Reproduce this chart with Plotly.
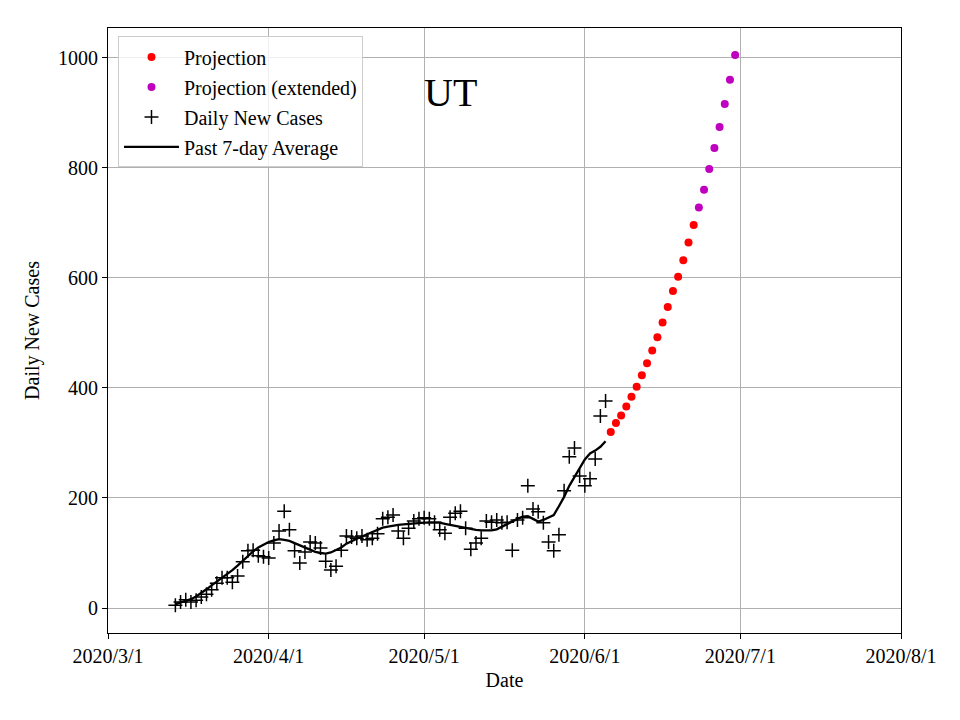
import pandas as pd
import plotly.graph_objects as go

# ---------------- data ----------------
daily_start = "2020-03-14"
daily_cases = [5, 11, 15, 11, 14, 20, 25, 33, 45, 55, 55, 47, 58, 84, 104, 105, 95, 93, 91,
               118, 140, 176, 142, 104, 82, 102, 120, 118, 109, 85, 69, 76, 105, 131, 129,
               127, 131, 124, 127, 135, 162, 165, 169, 140, 127, 145, 158, 162, 164, 162,
               156, 142, 136, 165, 172, 176, 145, 107, 118, 127, 158, 156, 160, 155, 156,
               105, 160, 164, 222, 180, 175, 155, 120, 104, 133, 213, 275, 291, 240, 222,
               235, 271, 349, 376]
avg_7day = [7, 10, 13, 16, 21, 27, 34, 41, 48, 54, 61, 69, 77, 86, 95, 103, 110, 115, 120,
            123, 125, 124, 122, 118, 114, 110, 105, 102, 100, 99, 101, 105, 110, 117, 122,
            126, 130, 134, 138, 142, 146, 148, 150, 151, 152, 153, 154, 155, 155, 155,
            155, 155, 153, 151, 149, 147, 145, 143, 142, 141, 141, 141, 143, 148, 153,
            158, 162, 166, 167, 162, 157, 160, 165, 169, 185, 202, 222, 238, 255, 270,
            281, 286, 293, 303]
proj_start = "2020-06-06"
projection = [320, 336, 350, 366, 384, 402, 423, 445, 468, 492, 519, 547, 576, 602, 632,
              664, 696]
ext_start = "2020-06-23"
projection_ext = [728, 760, 798, 836, 874, 916, 960, 1005]

x_tick_dates = ["2020-03-01", "2020-04-01", "2020-05-01", "2020-06-01", "2020-07-01",
                "2020-08-01"]
x_tick_labels = ["2020/3/1", "2020/4/1", "2020/5/1", "2020/6/1", "2020/7/1", "2020/8/1"]
y_ticks = [0, 200, 400, 600, 800, 1000]
state_label = "UT"

daily_dates = pd.date_range(daily_start, periods=len(daily_cases))
proj_dates = pd.date_range(proj_start, periods=len(projection))
ext_dates = pd.date_range(ext_start, periods=len(projection_ext))

FONT = "Liberation Serif, Times New Roman, serif"
FS = 20

fig = go.Figure()
fig.add_trace(go.Scatter(
    x=daily_dates, y=daily_cases, mode="markers", name="Daily New Cases",
    legendgroup="c", legendrank=3,
    marker=dict(symbol="cross-thin", size=10, line=dict(color="black", width=1.5),
                color="black")))
fig.add_trace(go.Scatter(
    x=daily_dates, y=avg_7day, mode="lines", name="Past 7-day Average",
    legendgroup="d", legendrank=4,
    line=dict(color="black", width=2.3)))
fig.add_trace(go.Scatter(
    x=proj_dates, y=projection, mode="markers", name="Projection",
    legendgroup="a", legendrank=1,
    marker=dict(color="#ff0000", size=8)))
fig.add_trace(go.Scatter(
    x=ext_dates, y=projection_ext, mode="markers", name="Projection (extended)",
    legendgroup="b", legendrank=2,
    marker=dict(color="#bf00bf", size=8)))

axis_common = dict(
    showgrid=True, gridcolor="#b0b0b0", gridwidth=1.2,
    showline=True, linecolor="black", linewidth=1.2, mirror=True,
    ticks="outside", ticklen=5, tickwidth=1.2, tickcolor="black",
    zeroline=False,
    tickfont=dict(family=FONT, size=FS, color="black"),
)

fig.update_xaxes(
    **axis_common,
    range=["2020-03-01", "2020-08-01"],
    tickmode="array", tickvals=x_tick_dates, ticktext=x_tick_labels,
    title=dict(text="Date", font=dict(family=FONT, size=FS, color="black"), standoff=6),
)
fig.update_yaxes(
    **axis_common,
    range=[-45.4, 1054],
    tickmode="array", tickvals=y_ticks,
    title=dict(text="Daily New Cases", font=dict(family=FONT, size=FS, color="black"),
               standoff=12),
)

fig.add_annotation(
    text=state_label, xref="paper", yref="paper", x=0.4325, y=0.8926,
    xanchor="center", yanchor="middle", showarrow=False,
    font=dict(family=FONT, size=40, color="black"))

fig.update_layout(
    width=960, height=720,
    margin=dict(l=100, r=67, t=20, b=95),
    paper_bgcolor="white", plot_bgcolor="white",
    font=dict(family=FONT, size=FS, color="black"),
    legend=dict(
        x=0.0126, y=0.986, xanchor="left", yanchor="top",
        bgcolor="rgba(255,255,255,0.8)", bordercolor="#cccccc", borderwidth=1,
        font=dict(family=FONT, size=FS, color="black"),
        tracegroupgap=1, itemwidth=55, traceorder="grouped",
        entrywidth=250, entrywidthmode="pixels",
    ),
    showlegend=True,
)

fig.write_html("out.html")
